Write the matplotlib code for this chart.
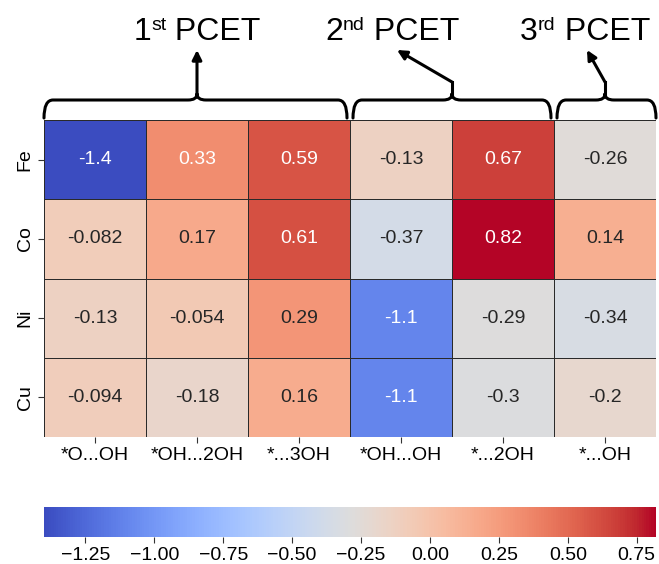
import numpy as np
import pandas as pd
import matplotlib
matplotlib.use("Agg")
import matplotlib.pyplot as plt
import seaborn as sns
from matplotlib.path import Path
from matplotlib.patches import PathPatch, FancyArrowPatch
from matplotlib.transforms import Affine2D

plt.rcParams['font.family'] = ['Liberation Sans', 'DejaVu Sans']

metals = ['Fe', 'Co', 'Ni', 'Cu']
steps = ['*O...OH', '*OH...2OH', '*...3OH', '*OH...OH', '*...2OH', '*...OH']

fe = [-1.4, 0.33, 0.59, -0.13, 0.67, -0.26]
co = [-0.082, 0.17, 0.61, -0.37, 0.82, 0.14]
ni = [-0.13, -0.054, 0.29, -1.1, -0.29, -0.34]
cu = [-0.094, -0.18, 0.16, -1.1, -0.3, -0.2]

# column ranges for each PCET step: (first col, last col + 1, number, suffix)
groups = [(0, 3, '1', 'st'), (3, 5, '2', 'nd'), (5, 6, '3', 'rd')]

cbar_ticks = [-1.25, -1.0, -0.75, -0.5, -0.25, 0.0, 0.25, 0.5, 0.75]

df = pd.DataFrame([fe, co, ni, cu], index=metals, columns=steps)

W, H = 659, 564
fig = plt.figure(figsize=(W / 100, H / 100), dpi=100)

# layout in pixels (from top-left)
left, right = 44, 656
top, bottom = 120, 437
cb_top, cb_bottom = 507, 537

ax = fig.add_axes([left / W, 1 - bottom / H, (right - left) / W, (bottom - top) / H])
cax = fig.add_axes([left / W, 1 - cb_bottom / H, (right - left) / W, (cb_bottom - cb_top) / H])

sns.heatmap(df, ax=ax, cbar_ax=cax, cmap='coolwarm', annot=True,
            annot_kws={'fontsize': 14}, linewidths=0.6, linecolor='#2a2a2a',
            cbar_kws={'orientation': 'horizontal', 'ticks': cbar_ticks})

ax.set_xticklabels(steps, fontsize=14, rotation=0)
ax.set_yticklabels(metals, fontsize=14, rotation=90, va='center')
ax.tick_params(axis='both', length=4, width=0.8, color='#333333')
cax.tick_params(labelsize=14, length=4, width=0.8, color='#333333')

# pixel coords (y down) -> figure
px = Affine2D().scale(1 / W, -1 / H).translate(0, 1) + fig.transFigure
renderer = fig.canvas.get_renderer()

cell_w = (right - left) / len(steps)
y_base, y_line = 118, 100
r, h = 9, 6
label_x = [197, 392, 585]
tips = [(197, 50), (397, 50), (587, 50)]
stem_top = [None, 82, 82]


def sup_label(xc, base, num, suf):
    # "1st PCET" with a raised, smaller suffix, centred on xc
    parts = [(num, 23, 0), (suf, 14, 10), (' PCET', 23, 0)]
    texts = [fig.text(0, base - dy, s, transform=px, fontsize=fs,
                      ha='left', va='baseline') for s, fs, dy in parts]
    widths = [t.get_window_extent(renderer).width for t in texts]
    x = xc - sum(widths) / 2
    for t, (s, fs, dy), w in zip(texts, parts, widths):
        t.set_position((x, base - dy))
        x += w


for i, (c0, c1, num, suf) in enumerate(groups):
    x0 = left + c0 * cell_w + (3 if c0 > 0 else 0)
    x1 = left + c1 * cell_w - (3 if c1 < len(steps) else 0)
    xc = left + (c0 + c1) / 2 * cell_w
    verts = [(x0, y_base), (x0, y_line), (x0 + r, y_line),
             (xc - r, y_line), (xc, y_line), (xc, y_line - h),
             (xc, y_line - h), (xc, y_line), (xc + r, y_line),
             (x1 - r, y_line), (x1, y_line), (x1, y_base)]
    codes = [Path.MOVETO, Path.CURVE3, Path.CURVE3,
             Path.LINETO, Path.CURVE3, Path.CURVE3,
             Path.MOVETO, Path.CURVE3, Path.CURVE3,
             Path.LINETO, Path.CURVE3, Path.CURVE3]
    fig.add_artist(PathPatch(Path(verts, codes), fill=False, lw=2.2,
                             edgecolor='black', transform=px, capstyle='round',
                             joinstyle='round'))

    start = (xc, y_line - h)
    if stem_top[i] is not None:
        fig.add_artist(plt.Line2D([xc, xc], [y_line - h, stem_top[i]], lw=2.2,
                                  color='black', transform=px))
        start = (xc, stem_top[i])
    fig.add_artist(FancyArrowPatch(
        start, tips[i], transform=px, arrowstyle='-|>', mutation_scale=14,
        lw=2.2, color='black', shrinkA=0, shrinkB=0))

    sup_label(label_x[i], 40, num, suf)

fig.savefig('out.png', dpi=100)
